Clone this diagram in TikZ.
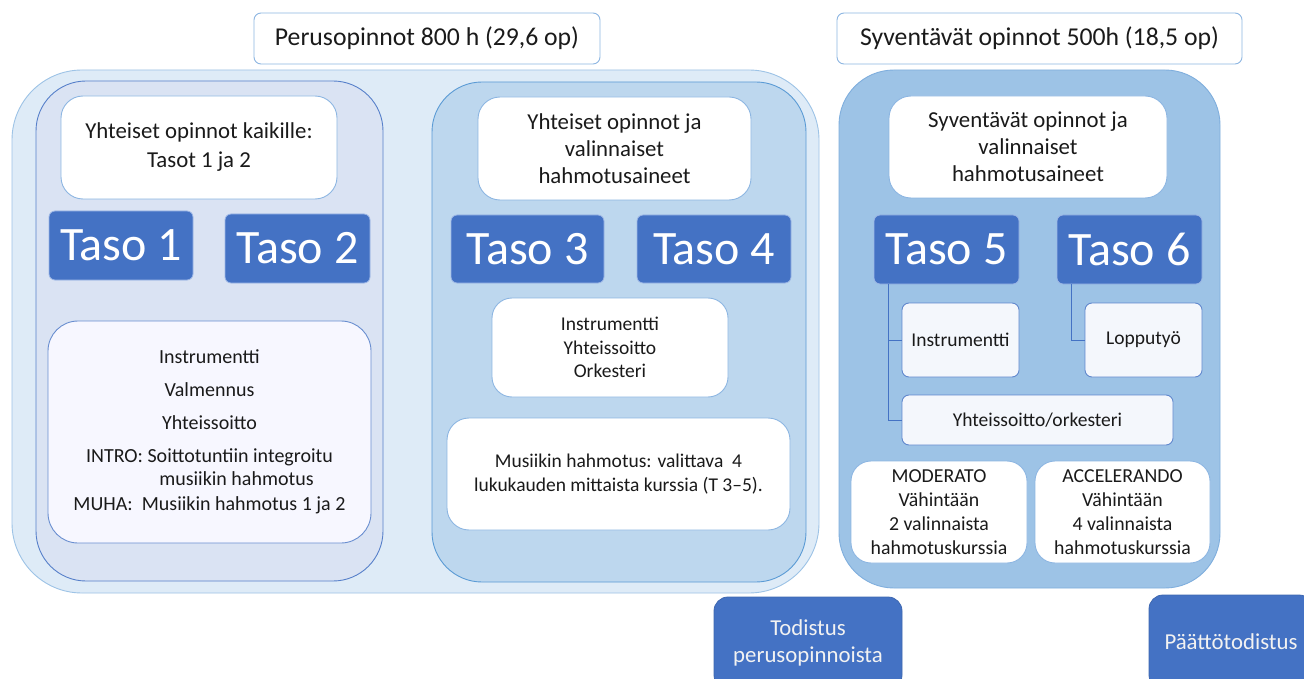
\documentclass[tikz,border=0pt]{standalone}
\usepackage{fontspec}
\setmainfont{Carlito}
\definecolor{outerfill}{HTML}{DEEBF7}
\definecolor{outerdraw}{HTML}{9DC3E6}
\definecolor{leftfill}{HTML}{DAE3F3}
\definecolor{darkblue}{HTML}{4472C4}
\definecolor{midfill}{HTML}{BDD7EE}
\definecolor{middraw}{HTML}{5B9BD5}
\definecolor{rightfill}{HTML}{9DC3E6}
\definecolor{rightdraw}{HTML}{7FAEDD}
\definecolor{wboxdraw}{HTML}{8DB6E2}
\definecolor{palefill}{HTML}{F4F7FC}
\definecolor{tasodraw}{HTML}{9EB8E6}
\definecolor{txt}{HTML}{1A1A1A}
\begin{document}
\begin{tikzpicture}[x=1pt,y=-1pt,
  every node/.style={inner sep=0pt, align=center, text=txt},
  panel/.style={draw, line width=0.9pt, rounded corners=#1},
  wbox/.style={draw=wboxdraw, fill=white, line width=0.9pt, rounded corners=#1,
    font=\fontsize{19.5}{23.5}\selectfont},
  pbox/.style={draw=darkblue!85, fill=palefill, line width=0.9pt, rounded corners=#1,
    font=\fontsize{19.5}{23.5}\selectfont},
  taso/.style={draw=tasodraw, fill=darkblue, line width=0.8pt, rounded corners=6pt,
    text=white, font=\fontsize{48}{50}\selectfont},
  certbox/.style={draw=darkblue!90!black, fill=darkblue, line width=0.8pt, rounded corners=14pt,
    text=white!95!black, font=\fontsize{22.8}{27}\selectfont},
  topbox/.style={draw=wboxdraw, fill=white, line width=0.9pt, rounded corners=7pt,
    font=\fontsize{25.7}{28}\selectfont},
  conn/.style={draw=darkblue, line width=0.9pt}]
\useasboundingbox (0,0) rectangle (1304,679);
\clip (0,0) rectangle (1304,679);
\fill[white] (0,0) rectangle (1304,679);

% top headings
\node[topbox, minimum width=346pt, minimum height=51pt] (hp) at (427,38.5) {Perusopinnot 800 h (29,6 op)};
\node[topbox, minimum width=405pt, minimum height=51pt] (hs) at (1039.5,38.5) {Syventävät opinnot 500h (18,5 op)};

% panels
\node[panel=70pt, draw=outerdraw, fill=outerfill, minimum width=807pt, minimum height=523pt] (outer) at (415.5,331.5) {};
\node[panel=50pt, draw=darkblue!90, fill=leftfill, minimum width=347pt, minimum height=500pt] (pleft) at (209.5,331) {};
\node[panel=50pt, draw=middraw, fill=midfill, minimum width=374pt, minimum height=500pt] (pmid) at (619,332) {};
\node[panel=55pt, draw=rightdraw, fill=rightfill, minimum width=381pt, minimum height=518pt] (pright) at (1029.5,329) {};

% left panel
\node[wbox=22pt, minimum width=276pt, minimum height=103pt,
  font=\fontsize{22.8}{29}\selectfont] (yk) at (199,147.5) {Yhteiset opinnot kaikille:\\Tasot 1 ja 2};
\node[taso, minimum width=144pt, minimum height=69pt] (t1) at (121,245.5) {Taso 1};
\node[taso, minimum width=145pt, minimum height=69pt] (t2) at (297.5,248.5) {Taso 2};
\node[pbox=30pt, draw=darkblue!80, fill=white!97!blue, minimum width=323pt, minimum height=222pt,
  font=\fontsize{20}{23.5}\selectfont] (lbig) at (209.5,432)
 {Instrumentti\\[9.5pt]Valmennus\\[9pt]Yhteissoitto\\[9.5pt]INTRO: Soittotuntiin integroitu\\[-0.5pt]\hspace*{54pt}musiikin hahmotus\\[1.5pt]MUHA:\ \ Musiikin hahmotus 1 ja 2};

% middle panel
\node[wbox=22pt, minimum width=273pt, minimum height=103pt,
  font=\fontsize{22.8}{27}\selectfont] (ym) at (614.5,148.5) {Yhteiset opinnot ja\\valinnaiset\\hahmotusaineet};
\node[taso, minimum width=153pt, minimum height=68pt] (t3) at (527.5,249) {Taso 3};
\node[taso, minimum width=154pt, minimum height=68pt] (t4) at (714,249) {Taso 4};
\node[wbox=20pt, minimum width=236pt, minimum height=99pt] (iyo) at (610,347.5) {Instrumentti\\Yhteissoitto\\Orkesteri};
\node[wbox=22pt, minimum width=343pt, minimum height=112pt,
  font=\fontsize{19.5}{24.5}\selectfont] (mh) at (618.5,474) {Musiikin hahmotus: valittava\ \ 4\\lukukauden mittaista kurssia (T 3–5).};

% right panel
\node[wbox=22pt, minimum width=278pt, minimum height=102pt,
  font=\fontsize{22.8}{27}\selectfont] (ys) at (1028,147) {Syventävät opinnot ja\\valinnaiset\\hahmotusaineet};
\node[taso, minimum width=145pt, minimum height=69pt] (t5) at (946.5,249.5) {Taso 5};
\node[taso, minimum width=145pt, minimum height=69pt] (t6) at (1129.5,249.5) {Taso 6};
\node[pbox=7pt, minimum width=117pt, minimum height=74pt] (ins) at (960.5,340) {Instrumentti};
\node[pbox=7pt, minimum width=117pt, minimum height=74pt] (lop) at (1143.5,340) {Lopputyö};
\node[pbox=7pt, minimum width=271pt, minimum height=50pt] (yo) at (1037.5,420) {Yhteissoitto/orkesteri};
\node[wbox=20pt, minimum width=176pt, minimum height=102pt,
  font=\fontsize{19.8}{24}\selectfont] (mod) at (939,512) {MODERATO\\Vähintään\\2 valinnaista\\hahmotuskurssia};
\node[wbox=20pt, minimum width=175pt, minimum height=102pt,
  font=\fontsize{19.8}{24}\selectfont] (acc) at (1122.5,512) {ACCELERANDO\\Vähintään\\4 valinnaista\\hahmotuskurssia};

% connectors
\coordinate (c5) at (888,284);
\coordinate (c6) at (1071,284);
\draw[conn] (c5) |- (ins.west);
\draw[conn] (c5) |- (yo.west);
\draw[conn] (c6) |- (lop.west);

% certificates
\node[certbox, minimum width=188pt, minimum height=92pt] (tod) at (808,643) {Todistus\\perusopinnoista};
\node[certbox, minimum width=164pt, minimum height=94pt] (paa) at (1231,642) {Päättötodistus};
\end{tikzpicture}
\end{document}
